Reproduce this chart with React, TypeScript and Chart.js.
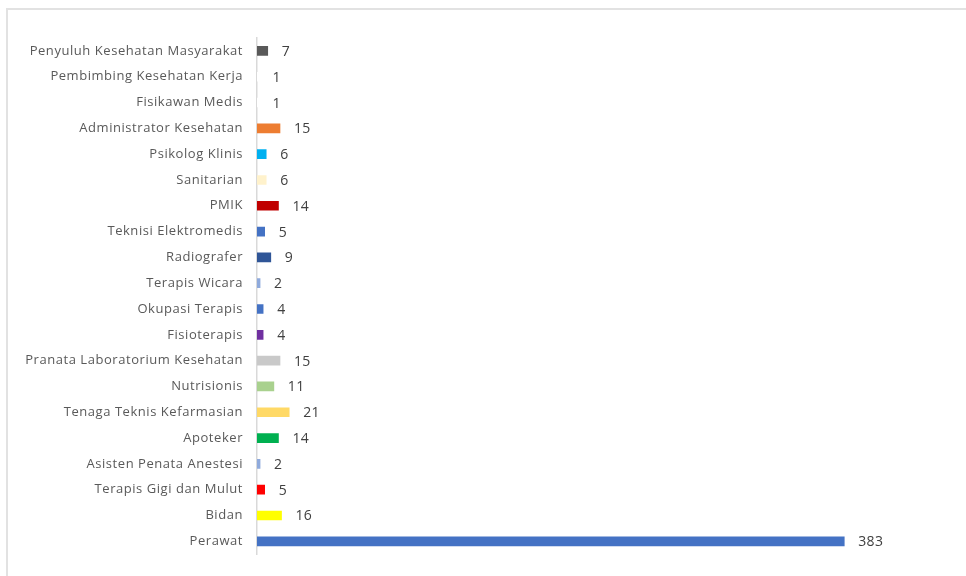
import React, { useEffect, useRef } from "react";
import { Chart, registerables } from "chart.js";

Chart.register(...registerables);

const categories: string[] = [
  "Penyuluh Kesehatan Masyarakat",
  "Pembimbing Kesehatan Kerja",
  "Fisikawan Medis",
  "Administrator Kesehatan",
  "Psikolog Klinis",
  "Sanitarian",
  "PMIK",
  "Teknisi Elektromedis",
  "Radiografer",
  "Terapis Wicara",
  "Okupasi Terapis",
  "Fisioterapis",
  "Pranata Laboratorium Kesehatan",
  "Nutrisionis",
  "Tenaga Teknis Kefarmasian",
  "Apoteker",
  "Asisten Penata Anestesi",
  "Terapis Gigi dan Mulut",
  "Bidan",
  "Perawat",
];

const values: number[] = [7, 1, 1, 15, 6, 6, 14, 5, 9, 2, 4, 4, 15, 11, 21, 14, 2, 5, 16, 383];

const barColors: string[] = [
  "#595959",
  "#FFFFFF",
  "#FFFFFF",
  "#ED7D31",
  "#00B0F0",
  "#FFF2CC",
  "#C00000",
  "#4472C4",
  "#2F5597",
  "#8FAADC",
  "#4472C4",
  "#7030A0",
  "#C9C9C9",
  "#A9D18E",
  "#FFD966",
  "#00B050",
  "#8FAADC",
  "#FF0000",
  "#FFFF00",
  "#4472C4",
];

const spacingPlugin = {
  id: "labelSpacing",
  beforeDraw(chart: any) {
    chart.ctx.letterSpacing = "0.55px";
  },
  beforeDatasetsDraw(chart: any) {
    chart.ctx.letterSpacing = "0px";
  },
};

const valueLabelPlugin = {
  id: "valueLabels",
  afterDatasetsDraw(chart: any) {
    const ctx = chart.ctx;
    const meta = chart.getDatasetMeta(0);
    ctx.save();
    ctx.letterSpacing = "0.3px";
    ctx.font = "14px 'Open Sans', Arial, sans-serif";
    ctx.fillStyle = "#404040";
    ctx.textAlign = "left";
    ctx.textBaseline = "middle";
    meta.data.forEach((bar: any, i: number) => {
      ctx.fillText(String(values[i]), bar.x + 14, bar.y + 1);
    });
    ctx.restore();
  },
};

export default function App() {
  const ref = useRef<HTMLCanvasElement | null>(null);

  useEffect(() => {
    if (!ref.current) return;
    const chart = new Chart(ref.current, {
      type: "bar",
      data: {
        labels: categories,
        datasets: [
          {
            data: values,
            backgroundColor: barColors,
            barThickness: 9,
          },
        ],
      },
      options: {
        indexAxis: "y",
        responsive: false,
        animation: false,
        layout: { padding: { top: 38, bottom: 17, left: 0, right: 19 } },
        plugins: {
          legend: { display: false },
          tooltip: { enabled: false },
        },
        scales: {
          x: {
            display: false,
            min: 0,
            max: 450,
          },
          y: {
            grid: { display: false, drawTicks: false },
            border: { display: true, color: "#D9D9D9", width: 1.5 },
            ticks: {
              padding: 14,
              color: "#595959",
              font: { family: "'Open Sans', Arial, sans-serif", size: 13 },
            },
            afterFit(scale: any) {
              scale.width = 257;
            },
          },
        },
      },
      plugins: [spacingPlugin, valueLabelPlugin],
    });
    return () => chart.destroy();
  }, []);

  return (
    <div style={{ position: "fixed", left: 0, top: 0, width: 966, height: 576, background: "#fff" }}>
      <div
        style={{
          position: "absolute",
          left: 6,
          top: 8,
          width: 960,
          height: 568,
          borderTop: "2px solid #E2E2E2",
          borderLeft: "2px solid #E2E2E2",
          boxSizing: "border-box",
        }}
      />
      <canvas ref={ref} width={966} height={576} style={{ position: "absolute", left: 0, top: 0 }} />
    </div>
  );
}
